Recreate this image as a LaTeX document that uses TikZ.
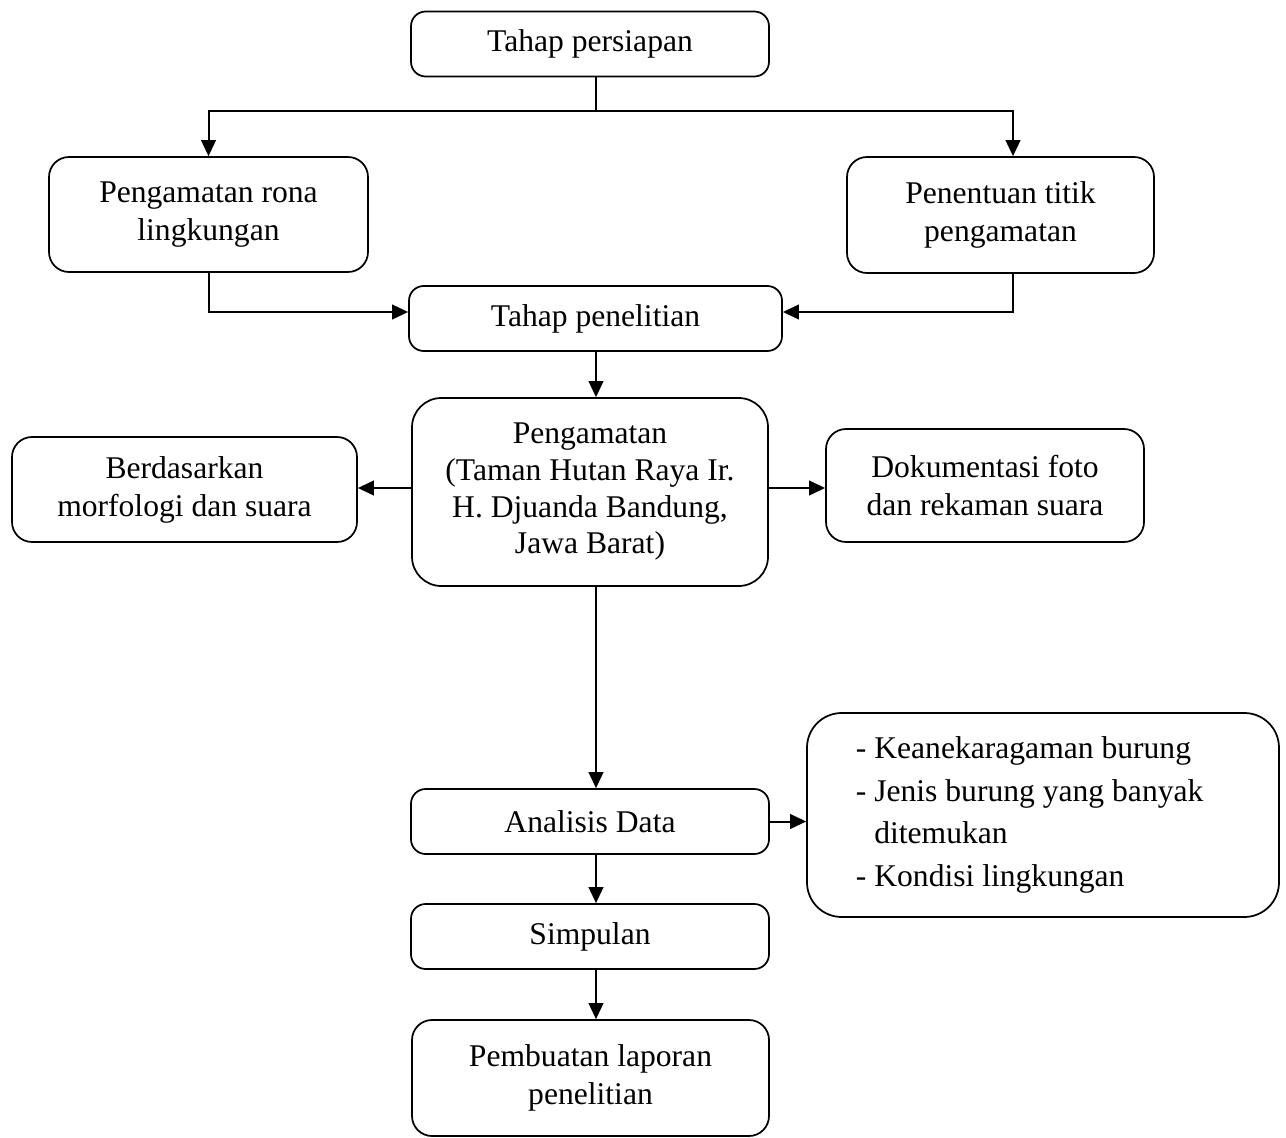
\documentclass[tikz,border=0pt]{standalone}
\usepackage{fontspec}
\setmainfont{Liberation Serif}
\usetikzlibrary{arrows.meta,calc}
\begin{document}
\begin{tikzpicture}[x=0.75pt,y=-0.75pt,
  box/.style={draw,line width=1.3pt,rounded corners=11pt,inner sep=0pt,align=center,
    font=\fontsize{23.7pt}{28.5pt}\selectfont},
  conn/.style={line width=1.5pt},
  arr/.style={line width=1.5pt,-{Triangle[length=12pt,width=11pt]}}]
\useasboundingbox (0,0) rectangle (1286,1138);
\node[box,minimum width=268.5pt,minimum height=48.75pt] (persiapan) at (590,44) {Tahap persiapan};
\node[box,rounded corners=15pt,minimum width=239.25pt,minimum height=86.25pt] (rona) at (208.5,214.5) {Pengamatan rona\\lingkungan};
\node[box,rounded corners=15pt,minimum width=230.25pt,minimum height=87pt] (penentuan) at (1000.5,215) {Penentuan titik\\pengamatan};
\node[box,minimum width=279.75pt,minimum height=48.75pt] (penelitian) at (595.5,318.5) {Tahap penelitian};
\node[box,rounded corners=22pt,minimum width=267pt,minimum height=141pt,
  font=\fontsize{23.7pt}{27.5pt}\selectfont] (pengamatan) at (590,492) {Pengamatan\\(Taman Hutan Raya Ir.\\H. Djuanda Bandung,\\Jawa Barat)};
\node[box,rounded corners=15pt,minimum width=258.75pt,minimum height=78.75pt] (berdasarkan) at (184.5,489.5) {Berdasarkan\\morfologi dan suara};
\node[box,rounded corners=15pt,minimum width=238.5pt,minimum height=84.75pt] (dokumentasi) at (985,485.5) {Dokumentasi foto\\dan rekaman suara};
\node[box,minimum width=268.5pt,minimum height=48.75pt] (analisis) at (590,821.5) {Analisis Data};
\node[box,rounded corners=26pt,minimum width=354pt,minimum height=153pt,align=left,
  font=\fontsize{23.7pt}{32pt}\selectfont] (hasil) at (1043,815)
  {- Keanekaragaman burung\\- Jenis burung yang banyak\rule{20pt}{0pt}\\\phantom{- }ditemukan\\- Kondisi lingkungan};
\node[box,minimum width=268.5pt,minimum height=48.75pt] (simpulan) at (590,936.5) {Simpulan};
\node[box,rounded corners=15pt,minimum width=267.75pt,minimum height=87pt] (pembuatan) at (590.5,1078) {Pembuatan laporan\\penelitian};

\coordinate (split) at (596,111);
\coordinate (lvl) at (0,312);
\coordinate (ar) at (0,488);
\coordinate (col) at (596,0);

\draw[conn] (persiapan.south -| split) -- (split);
\draw[arr] (split) -| (rona.north);
\draw[arr] (split) -| ($(penentuan.north)+(12.5,0)$);
\draw[arr] (rona.south) |- (penelitian.west |- lvl);
\draw[arr] ($(penentuan.south)+(12.5,0)$) |- (penelitian.east |- lvl);
\draw[arr] (penelitian.south -| col) -- (pengamatan.north -| col);
\draw[arr] (pengamatan.west |- ar) -- (berdasarkan.east |- ar);
\draw[arr] (pengamatan.east |- ar) -- (dokumentasi.west |- ar);
\draw[arr] (pengamatan.south -| col) -- (analisis.north -| col);
\draw[arr] (analisis.east) -- (hasil.west |- analisis.east);
\draw[arr] (analisis.south -| col) -- (simpulan.north -| col);
\draw[arr] (simpulan.south -| col) -- (pembuatan.north -| col);
\end{tikzpicture}
\end{document}
